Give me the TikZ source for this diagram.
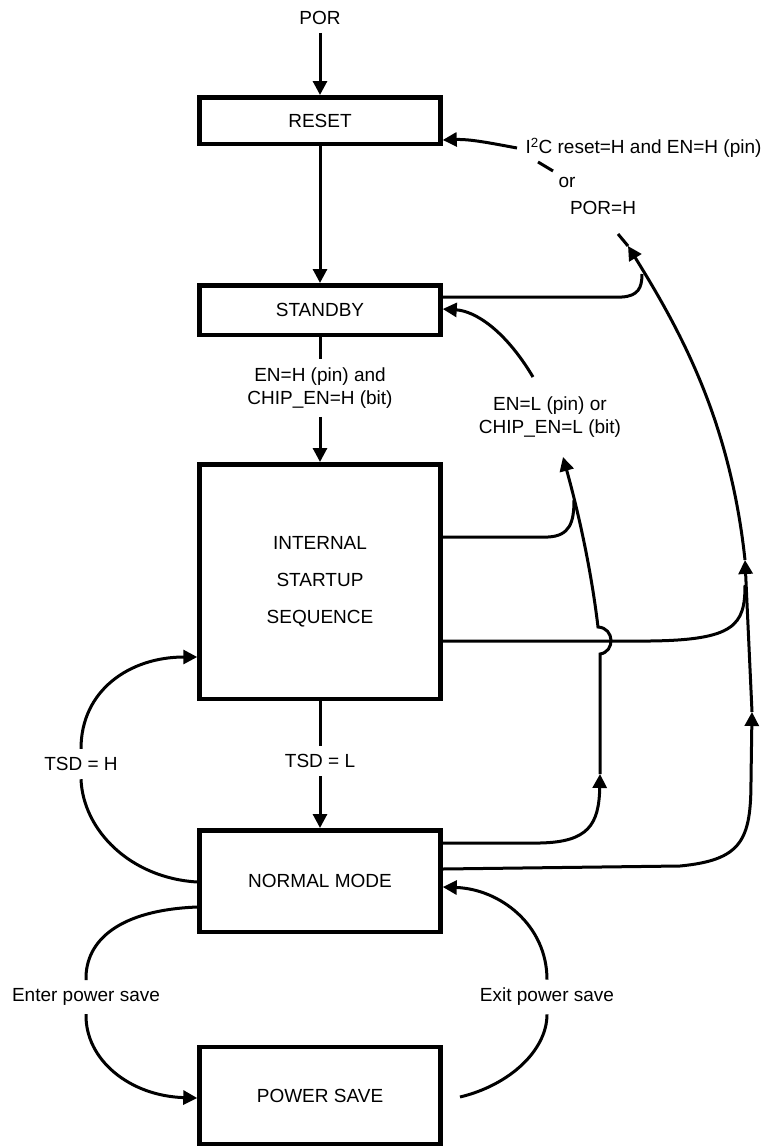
\documentclass[tikz,border=0pt]{standalone}
\usepackage{fontspec}
\setmainfont{Liberation Sans}
\usetikzlibrary{arrows.meta}
\usetikzlibrary{positioning}
\tikzstyle{statebox} = [rectangle, draw=black, line width=4.5pt, minimum width=241pt,
inner sep=0pt, font=\fontsize{19}{23}\selectfont]
\tikzstyle{caption} = [inner sep=7pt, font=\fontsize{19}{23}\selectfont, align=center]
\tikzstyle{flow} = [line width=3pt]
\tikzset{>={Triangle[length=14pt,width=14pt]}}

\begin{document}
\begin{tikzpicture}[x=1pt, y=-1pt, flow]
  \path[use as bounding box, fill=white] (0,0) rectangle (765,1148);

  % states
  \node[statebox, minimum height=46.5pt] (reset) at (320,120.5) {RESET};
  \node[statebox, minimum height=49.5pt] (standby) at (320,310) {STANDBY};
  \node[statebox, minimum height=234.5pt, align=center,
        font=\fontsize{19}{37}\selectfont] (iss) at (320,581.5) {INTERNAL\\STARTUP\\SEQUENCE};
  \node[statebox, minimum height=101.5pt] (nm) at (320,881) {NORMAL MODE};
  \node[statebox, minimum height=97pt] (ps) at (320,1095.5) {POWER SAVE};

  % conditions
  \node[caption, above=62pt of reset] (por) {POR};
  \node[caption] (enh) at (320,388) {EN=H (pin) and\\CHIP\_EN=H (bit)};
  \node[caption] (tsdl) at (320,761) {TSD = L};
  \node[caption] (tsdh) at (81,764) {TSD = H};
  \node[caption] (eps) at (86,997) {Enter power save};
  \node[caption] (xps) at (547,997) {Exit power save};
  \node[caption] (enl) at (550,417) {EN=L (pin) or\\CHIP\_EN=L (bit)};
  \node[caption, anchor=west] (i2c) at (517,148) {I\textsuperscript{2}C reset=H and EN=H (pin)};
  \node[caption] (or1) at (567,182) {or};
  \node[caption] (porh) at (603,208) {POR=H};

  \coordinate (sl1) at (538,162);
  \coordinate (sl2) at (553,171);
  \coordinate (enlx) at (533,377);
  \coordinate (psx) at (460,1097);
  \coordinate (tipa) at (600,774);
  \coordinate (tipb) at (563,457);
  \coordinate (tipc) at (752,712);
  \coordinate (tipd) at (745,560);
  \coordinate (tipe) at (628,246);
  \coordinate (porx) at (618,234);

  % main column
  \draw[->] (por) -- (reset);
  \draw[->] (reset) -- (standby);
  \draw (standby) -- (enh);
  \draw[->] (enh) -- (iss);
  \draw (iss) -- (tsdl);
  \draw[->] (tsdl) -- (nm);

  % left loops
  \draw (nm.west |- 0,882) .. controls (130,878) and (83,830) .. (tsdh.south);
  \draw[->] (tsdh.north) .. controls (81,690) and (130,657) .. (iss.west |- 0,657);
  \draw (nm.west |- 0,907) .. controls (120,910) and (85,940) .. (eps.north);
  \draw[->] (eps.south) .. controls (85,1060) and (130,1096) .. (ps.west |- 0,1098);
  \draw (psx) .. controls (510,1085) and (547,1050) .. (xps.south);
  \draw[->] (xps.north) .. controls (547,925) and (500,889) .. (nm.east |- 0,887);

  % back to standby / reset
  \draw[->] (enlx) .. controls (505,330) and (475,311) .. (standby.east |- 0,309);
  \draw[->] (i2c.west) .. controls (490,143) and (470,139) .. (reset.east |- 0,140);
  \draw (sl1) -- (sl2);

  \draw[->] (nm.east |- 0,843) -- (540,843) .. controls (588,842) and (599,825) .. (tipa);
  \draw[->] (tipa) -- (600,654) .. controls (615,652) and (615,628) .. (598,627)
    .. controls (590,560) and (575,500) .. (tipb);
  \draw (iss.east |- 0,537) -- (548,537) .. controls (570,536) and (574,522) .. (574,500);

  \draw[->] (nm.east |- 0,869) -- (680,866) .. controls (742,860) and (751,840) .. (751,780) -- (tipc);
  \draw[->] (tipc) -- (tipd);
  \draw (iss.east |- 0,641) -- (650,641) .. controls (735,640) and (745,625) .. (745,585);
  \draw[->] (tipd) .. controls (730,420) and (680,330) .. (tipe);
  \draw (tipe) -- (porx);
  \draw (standby.east |- 0,297) -- (622,297) .. controls (638,296) and (642,288) .. (642,274);
\end{tikzpicture}
\end{document}
